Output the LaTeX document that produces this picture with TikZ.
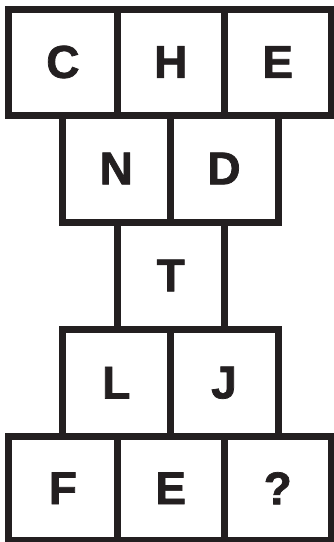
\documentclass[tikz,border=0pt]{standalone}
\usepackage{fontspec}
\setmainfont{Liberation Sans}
\newfontfamily\lblfont{Liberation Sans Bold}[FakeBold=1.6]
\definecolor{ink}{HTML}{231F20}
\begin{document}
\begin{tikzpicture}[x=1pt,y=1pt,
  cell/.style={draw=ink, line width=7pt, rectangle, inner sep=0pt, outer sep=0pt,
    text=ink, font=\lblfont\fontsize{46}{46}\selectfont}]
\useasboundingbox (0,0) rectangle (333,-542);
% row 1
\node[cell, minimum width=108.2pt, minimum height=106pt] (c1) at (62.9,-62) {C};
\node[cell, minimum width=107.5pt, minimum height=106pt] (h1) at (170.75,-62) {H};
\node[cell, minimum width=106.5pt, minimum height=106pt] (e1) at (277.75,-62) {E};
% row 2
\node[cell, minimum width=107.5pt, minimum height=107pt] (n2) at (116.25,-168.5) {N};
\node[cell, minimum width=108pt, minimum height=107pt] (d2) at (224,-168.5) {D};
% row 3
\node[cell, minimum width=107.5pt, minimum height=107pt] (t3) at (170.75,-275.5) {T};
% row 4
\node[cell, minimum width=107.5pt, minimum height=107.5pt] (l4) at (116.25,-382.75) {L};
\node[cell, minimum width=108pt, minimum height=107.5pt] (j4) at (224,-382.75) {J};
% row 5
\node[cell, minimum width=108.2pt, minimum height=103.5pt] (f5) at (62.9,-488.25) {F};
\node[cell, minimum width=107.5pt, minimum height=103.5pt] (e5) at (170.75,-488.25) {E};
\node[cell, minimum width=106.5pt, minimum height=103.5pt] (q5) at (277.75,-488.25) {?};
\end{tikzpicture}
\end{document}
